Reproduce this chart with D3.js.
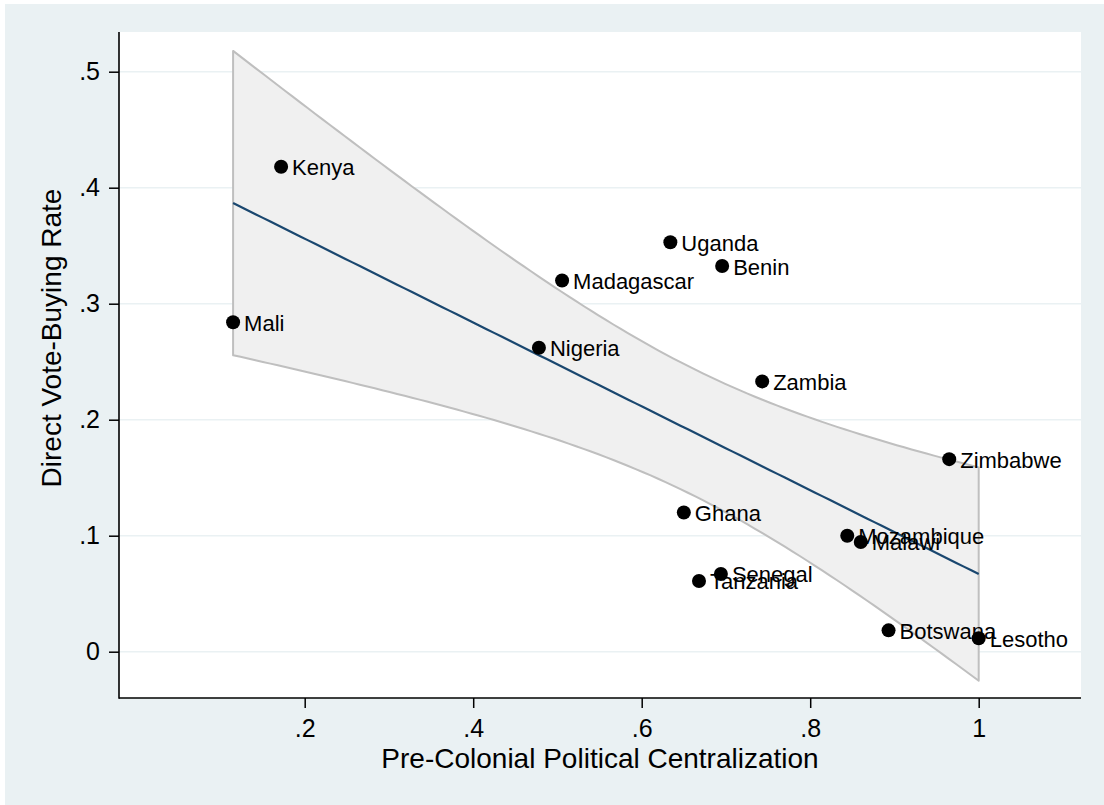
<!DOCTYPE html>
<html>
<head>
<meta charset="utf-8">
<script src="https://cdn.jsdelivr.net/npm/d3@7"></script>
<style>
  html, body { margin: 0; padding: 0; background: #ffffff; }
  svg { display: block; font-family: "Liberation Sans", Arial, Helvetica, sans-serif; }
</style>
</head>
<body>
<svg id="chart" width="1104" height="805"></svg>
<script>
// Country-level observations
const countries = ["Kenya", "Mali", "Nigeria", "Madagascar", "Uganda", "Benin", "Zambia",
  "Zimbabwe", "Ghana", "Mozambique", "Malawi", "Senegal", "Tanzania", "Botswana", "Lesotho"];
const centralization = [0.172, 0.115, 0.478, 0.5055, 0.634, 0.6955, 0.743,
  0.965, 0.650, 0.844, 0.860, 0.694, 0.668, 0.893, 1.0];
const voteBuying = [0.418, 0.284, 0.262, 0.320, 0.353, 0.3325, 0.233,
  0.166, 0.120, 0.100, 0.0946, 0.067, 0.061, 0.0184, 0.0116];

const xTicks = [0.2, 0.4, 0.6, 0.8, 1];
const yTicks = [0, 0.1, 0.2, 0.3, 0.4, 0.5];
const xTitle = "Pre-Colonial Political Centralization";
const yTitle = "Direct Vote-Buying Rate";

// Layout
const plot = { left: 119, right: 1081, top: 32, bottom: 698 };
const bgColor = "#eaf1f3";

const svg = d3.select("#chart");

// Outer graph region
svg.append("rect").attr("x", 5).attr("y", 4).attr("width", 1099).attr("height", 801)
  .attr("fill", bgColor);
// Plot region
svg.append("rect").attr("x", plot.left).attr("y", plot.top)
  .attr("width", plot.right - plot.left).attr("height", plot.bottom - plot.top)
  .attr("fill", "#ffffff");

const x = d3.scaleLinear().domain([0.2, 1]).range([304.7, 978.7]);
const y = d3.scaleLinear().domain([0, 0.5]).range([651.7, 71.7]);

const fmt = v => v === 0 ? "0" : (v === 1 ? "1" : d3.format(".1f")(v).replace(/^0/, ""));

// Horizontal grid lines
svg.append("g").selectAll("line").data(yTicks).join("line")
  .attr("x1", plot.left).attr("x2", plot.right)
  .attr("y1", d => y(d)).attr("y2", d => y(d))
  .attr("stroke", bgColor).attr("stroke-width", 1.6);

// Linear fit with 95% confidence interval
const data = countries.map((c, i) => ({ name: c, x: centralization[i], y: voteBuying[i] }));
const n = data.length;
const mx = d3.mean(data, d => d.x), my = d3.mean(data, d => d.y);
const sxx = d3.sum(data, d => (d.x - mx) ** 2);
const sxy = d3.sum(data, d => (d.x - mx) * (d.y - my));
const slope = sxy / sxx, intercept = my - slope * mx;
const sse = d3.sum(data, d => (d.y - (intercept + slope * d.x)) ** 2);
const s = Math.sqrt(sse / (n - 2));
const tCrit = 2.1604; // t(0.975, 13 df)
const [xmin, xmax] = d3.extent(data, d => d.x);
const grid = d3.range(0, 101).map(i => xmin + (xmax - xmin) * i / 100);
const band = grid.map(gx => {
  const fit = intercept + slope * gx;
  const half = tCrit * s * Math.sqrt(1 / n + (gx - mx) ** 2 / sxx);
  return { x: gx, fit, lo: fit - half, hi: fit + half };
});

const area = d3.area().x(d => x(d.x)).y0(d => y(d.lo)).y1(d => y(d.hi));
svg.append("path")
  .attr("d", area(band) + "Z")
  .attr("fill", "#f0f0f0").attr("stroke", "#bfbfbf").attr("stroke-width", 2)
  .attr("stroke-linejoin", "round");

svg.append("path").datum(band)
  .attr("d", d3.line().x(d => x(d.x)).y(d => y(d.fit)))
  .attr("fill", "none").attr("stroke", "#1a476f").attr("stroke-width", 2.2);

// Axes
const yAxis = svg.append("g").attr("transform", `translate(${plot.left},0)`)
  .call(d3.axisLeft(y).tickValues(yTicks).tickFormat(fmt).tickSize(10).tickPadding(9));
const xAxis = svg.append("g").attr("transform", `translate(0,${plot.bottom})`)
  .call(d3.axisBottom(x).tickValues(xTicks).tickFormat(fmt).tickSize(10).tickPadding(11));
[yAxis, xAxis].forEach(g => {
  g.select(".domain").remove();
  g.selectAll(".tick line").attr("stroke", "#000").attr("stroke-width", 1.5);
  g.selectAll(".tick text").attr("fill", "#000").attr("font-size", 25)
    .attr("font-family", "Liberation Sans, Arial, Helvetica, sans-serif");
});
svg.append("line").attr("x1", plot.left).attr("x2", plot.left)
  .attr("y1", plot.top).attr("y2", plot.bottom + 0.75)
  .attr("stroke", "#000").attr("stroke-width", 1.6);
svg.append("line").attr("x1", plot.left).attr("x2", plot.right)
  .attr("y1", plot.bottom).attr("y2", plot.bottom)
  .attr("stroke", "#000").attr("stroke-width", 1.6);

// Axis titles
svg.append("text").attr("x", (plot.left + plot.right) / 2).attr("y", 768)
  .attr("text-anchor", "middle").attr("font-size", 28).attr("fill", "#000").text(xTitle);
svg.append("text").attr("transform", "translate(61,338) rotate(-90)")
  .attr("text-anchor", "middle").attr("font-size", 28).attr("fill", "#000").text(yTitle);

// Markers with country labels
const pts = svg.append("g").selectAll("g").data(data).join("g")
  .attr("transform", d => `translate(${x(d.x)},${y(d.y)})`);
pts.append("circle").attr("r", 7).attr("fill", "#000");
pts.append("text").attr("x", 11).attr("y", 8.5)
  .attr("font-size", 22).attr("fill", "#000").text(d => d.name);
</script>
</body>
</html>
